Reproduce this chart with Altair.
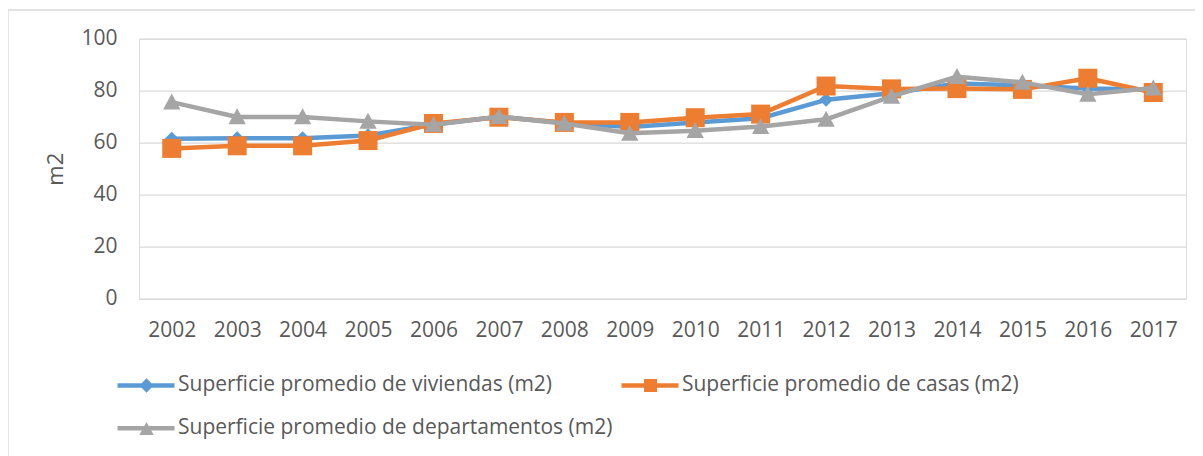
import altair as alt
import pandas as pd

years = ["2002", "2003", "2004", "2005", "2006", "2007", "2008", "2009",
         "2010", "2011", "2012", "2013", "2014", "2015", "2016", "2017"]

viviendas = [61.5, 61.7, 61.7, 62.8, 67.0, 70.0, 67.6, 66.0,
             67.8, 69.4, 76.5, 79.0, 82.8, 82.0, 80.8, 80.5]
casas = [57.8, 58.8, 58.8, 60.8, 67.4, 69.8, 67.8, 67.8,
         69.6, 71.0, 81.8, 80.7, 80.8, 80.5, 84.8, 79.3]
departamentos = [75.6, 69.9, 69.9, 68.2, 66.9, 70.0, 67.4, 63.6,
                 64.6, 66.2, 69.0, 77.8, 85.4, 83.2, 78.6, 81.0]

series_names = ["Superficie promedio de viviendas (m2)",
                "Superficie promedio de casas (m2)",
                "Superficie promedio de departamentos (m2)"]
series_values = [viviendas, casas, departamentos]
series_colors = ["#5b9bd5", "#ed7d31", "#a5a5a5"]

FONT = "Open Sans"
TEXT = "#595959"
GRID = "#d9d9d9"

rows = []
for name, vals in zip(series_names, series_values):
    for yr, v in zip(years, vals):
        rows.append({"year": yr, "serie": name, "value": v})
df = pd.DataFrame(rows)

# marker shapes in the plot
tri_path = "M0,-1L1,0.85L-1,0.85Z"
plot_shapes = ["diamond", "square", tri_path]
plot_sizes = [200, 361, 300]

# legend symbols: line segment + small marker (custom paths, unit = sqrt(size)/2)
line_part = "M-2.9,-0.23L2.8,-0.23L2.8,0.23L-2.9,0.23Z"
legend_paths = [
    line_part + "M-0.7,0L0,-0.72L0.7,0L0,0.72Z",
    line_part + "M-0.65,-0.65L0.65,-0.65L0.65,0.65L-0.65,0.65Z",
    line_part + "M0,-0.62L0.72,0.68L-0.72,0.68Z",
]

x_enc = alt.X("year:O", sort=years, title=None,
              axis=alt.Axis(labelAngle=0, labelFont=FONT, labelFontSize=21,
                            labelColor=TEXT, labelPadding=21, ticks=False,
                            domain=False, grid=False))
y_enc = alt.Y("value:Q", scale=alt.Scale(domain=[0, 100]),
              axis=alt.Axis(values=[0, 20, 40, 60, 80, 100], title="m2",
                            labelFont=FONT, labelFontSize=21, labelColor=TEXT,
                            labelPadding=22, ticks=False, domain=False,
                            gridColor=GRID, gridWidth=1.3,
                            titleFont=FONT, titleFontSize=22,
                            titleFontWeight="normal", titleColor=TEXT,
                            titleX=-84, titleY=130, titleAngle=270,
                            titleAlign="center", titleBaseline="middle"))

base = alt.Chart(df)

frame = alt.Chart(alt.Data(values=[{}])).mark_rect(
    fill="white", fillOpacity=0, stroke=GRID, strokeWidth=1.3
).encode(x=alt.value(-131), x2=alt.value(1200), y=alt.value(-28.7), y2=alt.value(600))

layers = [frame]
for name, color, shp, sz in zip(series_names, series_colors, plot_shapes, plot_sizes):
    sub = base.transform_filter(alt.datum.serie == name)
    layers.append(sub.mark_line(color=color, strokeWidth=4.5, strokeJoin="round",
                                strokeCap="round").encode(x=x_enc, y=y_enc))
    layers.append(sub.mark_point(filled=True, shape=shp, size=sz, color=color,
                                 opacity=1).encode(x=x_enc, y=y_enc))

leg_props = dict(title=None, orient="none", legendX=-3, legendY=336,
                 direction="horizontal", columns=2,
                 labelFont=FONT, labelFontSize=21, labelColor=TEXT,
                 labelLimit=800, symbolSize=400, symbolStrokeWidth=0,
                 labelOffset=21, rowPadding=21, columnPadding=8)

legend_layer = base.transform_filter("false").mark_point(filled=True, opacity=1).encode(
    x=x_enc, y=y_enc,
    color=alt.Color("serie:N", scale=alt.Scale(domain=series_names, range=series_colors),
                    legend=alt.Legend(**leg_props)),
    shape=alt.Shape("serie:N", scale=alt.Scale(domain=series_names, range=legend_paths),
                    legend=alt.Legend(**leg_props)),
)
layers.append(legend_layer)

chart = alt.layer(*layers).properties(
    width=1047, height=260,
    autosize=alt.AutoSizeParams(type="none"),
    padding={"left": 131, "top": 30.7, "right": 9, "bottom": 157},
).configure_view(stroke=None).configure(background="white")

chart.save("out.html", embed_options={"renderer": "svg", "actions": False})
